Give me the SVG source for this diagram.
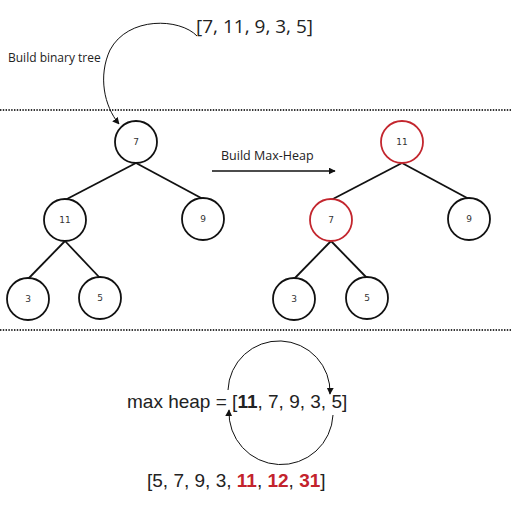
<svg xmlns="http://www.w3.org/2000/svg" width="512" height="512" viewBox="0 0 512 512">
<defs>
<marker id="ah" viewBox="0 0 10 10" refX="9" refY="5" markerWidth="7" markerHeight="7" markerUnits="userSpaceOnUse" orient="auto">
<path d="M0,0 L10,5 L0,10 z" fill="#111"/>
</marker>
</defs>
<style>
.n circle{fill:#fff;stroke:#111;stroke-width:1.8}
.n.r circle{stroke:#c3262e}
.n text{font-family:"DejaVu Sans",sans-serif;font-size:9px;fill:#333;text-anchor:middle}
.e{stroke:#111;stroke-width:1.8;fill:none}
.dot{stroke:#333;stroke-width:2;stroke-dasharray:1.4 1.4}
.big{font-family:"Open Sans",sans-serif;font-size:19px;fill:#222}
.lab{font-family:"Open Sans",sans-serif;fill:#222}
.arr{font-family:"Liberation Sans",Arial,sans-serif;font-size:19px;fill:#222}
.red{fill:#c3232c;font-weight:bold}
</style>
<rect width="512" height="512" fill="#fff"/>
<line class="dot" x1="0" y1="110" x2="512" y2="110"/>
<line class="dot" x1="0" y1="330" x2="512" y2="330"/>
<text class="big" x="196" y="33">[7, 11, 9, 3, 5]</text>
<text class="lab" x="8" y="62" font-size="12">Build binary tree</text>
<text class="lab" x="221" y="160" font-size="12.5">Build Max-Heap</text>
<g id="connectors">
<path class="e" d="M197,36 C180,18 128,16 110,50 C98,76 104,106 119,124" marker-end="url(#ah)" style="stroke-width:1"/>
<line class="e" x1="212" y1="171" x2="335" y2="171" marker-end="url(#ah)" style="stroke-width:1.5"/>
<line class="e" x1="136" y1="163" x2="65" y2="200"/>
<line class="e" x1="136" y1="163" x2="203" y2="199"/>
<line class="e" x1="65" y1="241" x2="28" y2="279"/>
<line class="e" x1="65" y1="241" x2="100" y2="278"/>
<line class="e" x1="402" y1="163" x2="331" y2="200"/>
<line class="e" x1="402" y1="163" x2="469" y2="199"/>
<line class="e" x1="331" y1="241" x2="294" y2="279"/>
<line class="e" x1="331" y1="241" x2="367" y2="278"/>
<path class="e" d="M228,390 A51,51 0 1 1 330,394" marker-end="url(#ah)" style="stroke-width:1"/>
<path class="e" d="M333,415 A52,52 0 1 1 229,410" marker-end="url(#ah)" style="stroke-width:1"/>
</g>
<g id="t1-7" class="n"><circle cx="136" cy="142" r="21"/><text x="136" y="145">7</text></g>
<g id="t1-11" class="n"><circle cx="65" cy="220" r="21"/><text x="65" y="223">11</text></g>
<g id="t1-9" class="n"><circle cx="203" cy="219" r="21"/><text x="203" y="222">9</text></g>
<g id="t1-3" class="n"><circle cx="28" cy="299" r="21"/><text x="28" y="302">3</text></g>
<g id="t1-5" class="n"><circle cx="100" cy="298" r="21"/><text x="100" y="301">5</text></g>
<g id="t2-11" class="n r"><circle cx="402" cy="142" r="21"/><text x="402" y="145">11</text></g>
<g id="t2-7" class="n r"><circle cx="331" cy="220" r="21"/><text x="331" y="223">7</text></g>
<g id="t2-9" class="n"><circle cx="469" cy="219" r="21"/><text x="469" y="222">9</text></g>
<g id="t2-3" class="n"><circle cx="294" cy="299" r="21"/><text x="294" y="302">3</text></g>
<g id="t2-5" class="n"><circle cx="367" cy="298" r="21"/><text x="367" y="301">5</text></g>
<text class="arr" x="127" y="408">max heap = [<tspan font-weight="bold">11</tspan>, 7, 9, 3, 5]</text>
<text class="arr" x="147" y="487">[5, 7, 9, 3, <tspan class="red">11</tspan>, <tspan class="red">12</tspan>, <tspan class="red">31</tspan>]</text>
</svg>
